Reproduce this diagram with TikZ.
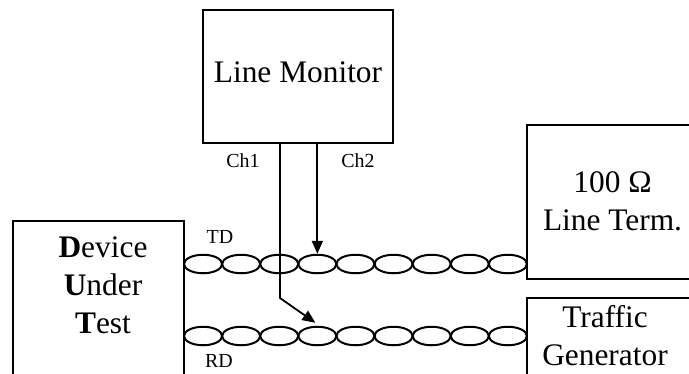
\documentclass[tikz,border=0pt]{standalone}
\usepackage{fontspec}
\setmainfont{Liberation Serif}
\usetikzlibrary{shapes.geometric,arrows.meta,calc}
\tikzset{
  box/.style={draw, line width=2bp, rectangle, inner sep=0pt},
  big/.style={font=\fontsize{31.5}{38}\selectfont, inner sep=0pt, align=center, anchor=base},
  small/.style={font=\fontsize{20}{24}\selectfont, inner sep=0pt, anchor=base},
  twist/.style={draw, ellipse, line width=2bp, minimum width=38.1bp, minimum height=18.5bp, inner sep=0pt},
  probe/.style={line width=1.8bp},
  tip/.style={-{Triangle[length=13bp,width=11bp]}}
}
\begin{document}
\begin{tikzpicture}[x=1bp,y=-1bp]
\useasboundingbox (0,0) rectangle (689,373);
\clip (0,0) rectangle (689,373);
% boxes
\node[box, minimum width=190bp, minimum height=133bp] (lm) at (298,76.5) {};
\node[box, minimum width=171bp, minimum height=190bp] (dut) at (98.5,316) {};
\node[box, minimum width=200bp, minimum height=154bp] (term) at (627,202) {};
\node[box, minimum width=200bp, minimum height=110bp] (gen) at (627,353) {};
% texts (base anchor = baseline of the last line)
\node[big] (lmt) at (298,82) {Line Monitor};
\node[big] (dutt) at (103,333) {\textbf{D}evice\\\textbf{U}nder\\\textbf{T}est};
\node[big] (termt) at (612.5,230) {100 Ω\\Line Term.};
\node[big] (gent) at (605,365) {Traffic\\Generator};
\node[small] (ch1) at (243,167) {Ch1};
\node[small] (ch2) at (358,167) {Ch2};
\node[small] (td) at (220,243) {TD};
\node[small] (rd) at (219,367) {RD};
% twisted pairs
\foreach \i in {1,...,9} {
  \node[twist] (td\i) at ({184+38.1*(\i-0.5)},264) {};
  \node[twist] (rd\i) at ({184+38.1*(\i-0.5)},336) {};
}
% probes
\coordinate (bend) at (280,298);
\coordinate (hit) at ($(rd4.north)+(-2,-3)$);
\draw[probe, tip] (lm.south -| td4.north) -- (td4.north);
\draw[probe, tip] (lm.south -| bend) -- (bend) -- (hit);
\end{tikzpicture}
\end{document}
